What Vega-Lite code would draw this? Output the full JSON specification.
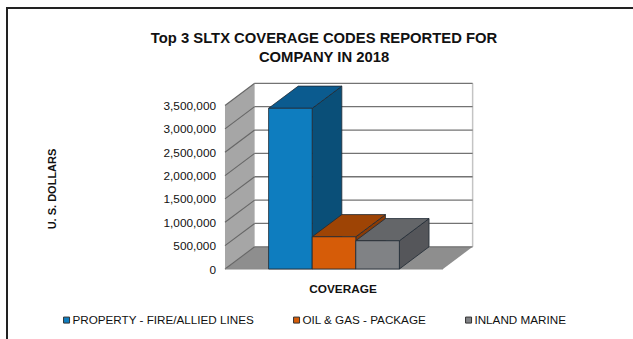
{
  "$schema": "https://vega.github.io/schema/vega-lite/v6.json",
  "width": 630,
  "height": 337,
  "autosize": "none",
  "padding": {"left": 7, "top": 8, "right": 0, "bottom": 0},
  "background": "white",
  "view": {"stroke": "#222222", "strokeWidth": 2, "fill": "white"},
  "title": {
    "text": ["Top 3 SLTX COVERAGE CODES REPORTED FOR", "COMPANY IN 2018"],
    "font": "Liberation Sans",
    "fontSize": 14.8,
    "fontWeight": "bold",
    "color": "#111111",
    "anchor": "middle",
    "dx": 2,
    "dy": 61,
    "lineHeight": 19.5
  },
  "config": {"font": "Liberation Sans"},
  "datasets": {
    "coverage": [
      {"coverage": "PROPERTY - FIRE/ALLIED LINES", "amount": 3440000, "rank": 1},
      {"coverage": "OIL & GAS - PACKAGE", "amount": 690000, "rank": 2},
      {"coverage": "INLAND MARINE", "amount": 605000, "rank": 3}
    ],
    "ticks": [
      {"tick": 0}, {"tick": 500000}, {"tick": 1000000}, {"tick": 1500000},
      {"tick": 2000000}, {"tick": 2500000}, {"tick": 3000000}, {"tick": 3500000}
    ],
    "plane": [{"plane": "box"}]
  },
  "layer": [
    {
      "description": "Left wall of the 3D box",
      "data": {"name": "plane"},
      "transform": [
        {"calculate": "[0, 1]", "as": "depth"},
        {"flatten": ["depth"]},
        {"calculate": "datum.depth * 0.68", "as": "px"},
        {"calculate": "datum.depth * 475000", "as": "low"},
        {"calculate": "3500000 + datum.depth * 475000", "as": "high"}
      ],
      "mark": {"type": "area", "color": "#a6a6a6"},
      "encoding": {
        "x": {"field": "px", "type": "quantitative", "scale": {"domain": [-5, 9.45], "nice": false, "zero": false}, "axis": {"title": "COVERAGE", "titleFont": "Liberation Sans", "titleFontSize": 11.8, "titleFontWeight": "bold", "titleColor": "#111111", "labels": false, "ticks": false, "domain": false, "grid": false, "titleAnchor": "start", "titleAlign": "center", "titleBaseline": "middle", "titleX": 335.5, "titleY": -57}},
        "y": {"field": "high", "type": "quantitative", "scale": {"domain": [-1626900, 5587200], "nice": false, "zero": false}, "axis": {"title": "U. S. DOLLARS", "titleFont": "Liberation Sans", "titleFontSize": 11, "titleFontWeight": "bold", "titleColor": "#111111", "titleX": -172.3, "titleY": 180.5, "titleAlign": "center", "titleBaseline": "middle", "offset": -218, "values": [0, 500000, 1000000, 1500000, 2000000, 2500000, 3000000, 3500000], "format": ",d", "labelFontSize": 11.8, "labelColor": "#111111", "labelFont": "Liberation Sans", "labelPadding": 9.5, "ticks": false, "domain": false, "grid": false}},
        "y2": {"field": "low"}
      }
    },
    {
      "description": "Floor of the 3D box",
      "data": {"name": "plane"},
      "transform": [
        {"calculate": "[0, 1]", "as": "depth"},
        {"flatten": ["depth"]},
        {"calculate": "datum.depth * 0.68", "as": "left"},
        {"calculate": "5 + datum.depth * 0.68", "as": "right"},
        {"calculate": "datum.depth * 475000", "as": "low"}
      ],
      "mark": {"type": "area", "orient": "horizontal", "color": "#8e8e8e"},
      "encoding": {
        "x": {"field": "left", "type": "quantitative"},
        "x2": {"field": "right"},
        "y": {"field": "low", "type": "quantitative"}
      }
    },
    {
      "description": "Right edge of the back wall",
      "data": {"name": "plane"},
      "transform": [
        {"calculate": "5.68", "as": "edge"},
        {"calculate": "475000", "as": "low"},
        {"calculate": "3975000", "as": "high"}
      ],
      "mark": {"type": "rule", "color": "#c4c4c4", "strokeWidth": 1.5},
      "encoding": {
        "x": {"field": "edge", "type": "quantitative"},
        "y": {"field": "low", "type": "quantitative"},
        "y2": {"field": "high"}
      }
    },
    {
      "description": "Gridlines along the back wall",
      "data": {"name": "ticks"},
      "transform": [
        {"calculate": "0.68", "as": "left"},
        {"calculate": "5.68", "as": "right"},
        {"calculate": "datum.tick + 475000", "as": "level"}
      ],
      "mark": {"type": "rule", "color": "#737373", "strokeWidth": 1.3},
      "encoding": {
        "x": {"field": "left", "type": "quantitative"},
        "x2": {"field": "right"},
        "y": {"field": "level", "type": "quantitative"}
      }
    },
    {
      "description": "Gridlines climbing the left wall",
      "data": {"name": "ticks"},
      "transform": [
        {"calculate": "[0, 1]", "as": "depth"},
        {"flatten": ["depth"]},
        {"calculate": "datum.depth * 0.68", "as": "px"},
        {"calculate": "datum.tick + datum.depth * 475000", "as": "level"}
      ],
      "mark": {"type": "line", "color": "#666666", "strokeWidth": 1.1},
      "encoding": {
        "x": {"field": "px", "type": "quantitative"},
        "y": {"field": "level", "type": "quantitative"},
        "detail": {"field": "tick"}
      }
    },
    {
      "description": "Front edge of the floor",
      "data": {"name": "plane"},
      "transform": [
        {"calculate": "0", "as": "left"},
        {"calculate": "5", "as": "right"},
        {"calculate": "0", "as": "level"}
      ],
      "mark": {"type": "rule", "color": "#8a8a8a", "strokeWidth": 1},
      "encoding": {
        "x": {"field": "left", "type": "quantitative"},
        "x2": {"field": "right"},
        "y": {"field": "level", "type": "quantitative"}
      }
    },
    {
      "description": "Right-hand faces of the bars",
      "data": {"name": "coverage"},
      "transform": [
        {"calculate": "[0, 1]", "as": "depth"},
        {"flatten": ["depth"]},
        {"calculate": "datum.rank + 1 + datum.depth * 0.68", "as": "px"},
        {"calculate": "datum.amount + datum.depth * 475000", "as": "high"},
        {"calculate": "datum.depth * 475000", "as": "low"}
      ],
      "mark": {"type": "area", "stroke": "#1f2a33", "strokeWidth": 0.8},
      "encoding": {
        "x": {"field": "px", "type": "quantitative"},
        "y": {"field": "high", "type": "quantitative"},
        "y2": {"field": "low"},
        "color": {"field": "coverage", "type": "nominal", "legend": null, "scale": {"domain": ["PROPERTY - FIRE/ALLIED LINES", "OIL & GAS - PACKAGE", "INLAND MARINE"], "range": ["#0a4f78", "#8a3b05", "#55565a"]}}
      }
    },
    {
      "description": "Top faces of the bars",
      "data": {"name": "coverage"},
      "transform": [
        {"calculate": "[0, 1]", "as": "depth"},
        {"flatten": ["depth"]},
        {"calculate": "datum.rank + datum.depth * 0.68", "as": "left"},
        {"calculate": "datum.rank + 1 + datum.depth * 0.68", "as": "right"},
        {"calculate": "datum.amount + datum.depth * 475000", "as": "high"}
      ],
      "mark": {"type": "area", "orient": "horizontal", "stroke": "#1f2a33", "strokeWidth": 0.8},
      "encoding": {
        "x": {"field": "left", "type": "quantitative"},
        "x2": {"field": "right"},
        "y": {"field": "high", "type": "quantitative"},
        "color": {"field": "coverage", "type": "nominal", "legend": null, "scale": {"domain": ["PROPERTY - FIRE/ALLIED LINES", "OIL & GAS - PACKAGE", "INLAND MARINE"], "range": ["#0b5b8f", "#9e4405", "#646669"]}}
      }
    },
    {
      "description": "Front faces of the bars, which carry the legend",
      "data": {"name": "coverage"},
      "transform": [
        {"calculate": "datum.rank + 1", "as": "next"},
        {"calculate": "0", "as": "base"}
      ],
      "mark": {"type": "bar", "stroke": "#1f2a33", "strokeWidth": 0.8},
      "encoding": {
        "x": {"field": "rank", "type": "quantitative"},
        "x2": {"field": "next"},
        "y": {"field": "amount", "type": "quantitative"},
        "y2": {"field": "base"},
        "color": {
          "field": "coverage",
          "type": "nominal",
          "scale": {"domain": ["PROPERTY - FIRE/ALLIED LINES", "OIL & GAS - PACKAGE", "INLAND MARINE"], "range": ["#0e7dbf", "#d65c08", "#808285"]},
          "legend": {
            "orient": "none",
            "legendX": 53.7,
            "legendY": 306,
            "direction": "horizontal",
            "columns": 3,
            "columnPadding": 36,
            "title": null,
            "symbolType": "square",
            "symbolSize": 36,
            "symbolStrokeWidth": 1,
            "symbolStrokeColor": "#333333",
            "labelFont": "Liberation Sans",
            "labelFontSize": 11.7,
            "labelColor": "#111111",
            "labelLimit": 300,
            "labelOffset": 0
          }
        }
      }
    }
  ],
  "resolve": {"scale": {"color": "independent"}}
}
